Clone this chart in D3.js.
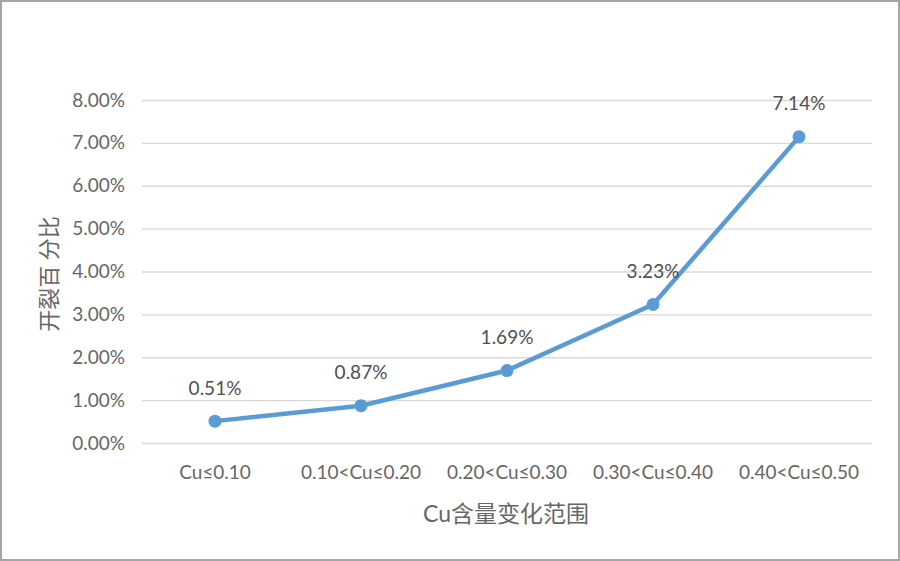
<!DOCTYPE html>
<html><head><meta charset="utf-8">
<script src="https://cdn.jsdelivr.net/npm/d3@7"></script>
<style>
html,body{margin:0;padding:0;background:#fff;}
svg{display:block;}
</style></head>
<body>
<script>
const categories = ["Cu≤0.10","0.10<Cu≤0.20","0.20<Cu≤0.30","0.30<Cu≤0.40","0.40<Cu≤0.50"];
const values = [0.51, 0.87, 1.69, 3.23, 7.14];
const yTicks = [0,1,2,3,4,5,6,7,8];
const xTitle = "Cu含量变化范围";
const yTitle = "开裂百 分比";

const W = 900, H = 561;
const m = {left:142, right:28, top:100, bottom:118};
const svg = d3.select("body").append("svg").attr("width",W).attr("height",H);
svg.append("rect").attr("x",1).attr("y",1).attr("width",W-2).attr("height",H-2)
  .attr("fill","#fff").attr("stroke","#a6a6a6").attr("stroke-width",2);

const x = d3.scaleBand().domain(categories).range([m.left, W-m.right]);
const y = d3.scaleLinear().domain([0,8]).range([H-m.bottom, m.top]);
const font = "'Lato','Noto Sans CJK SC',sans-serif";
const cjk = "'Lato','Noto Sans CJK SC',sans-serif";

const yAxis = svg.append("g").attr("transform",`translate(${m.left},0)`)
  .call(d3.axisLeft(y).tickValues(yTicks).tickFormat(d=>d.toFixed(2)+"%")
    .tickSize(-(W-m.left-m.right)).tickPadding(17));
yAxis.select(".domain").remove();
yAxis.selectAll(".tick line").attr("stroke","#d9d9d9").attr("stroke-width",1.3);
yAxis.selectAll("text").attr("fill","#666").style("font-family",font).style("font-size","19px");

const xAxis = svg.append("g").attr("transform",`translate(0,${H-m.bottom})`)
  .call(d3.axisBottom(x).tickSize(0).tickPadding(23));
xAxis.select(".domain").remove();
xAxis.selectAll("text").attr("fill","#666").style("font-family",font).style("font-size","19px");

const pts = categories.map((c,i)=>({c, v:values[i]}));
const line = d3.line().x(d=>x(d.c)+x.bandwidth()/2).y(d=>y(d.v));
svg.append("path").datum(pts).attr("d",line).attr("fill","none")
  .attr("stroke","#5b9bd5").attr("stroke-width",4.5).attr("stroke-linejoin","round");
svg.selectAll("circle.pt").data(pts).join("circle").attr("class","pt")
  .attr("cx",d=>x(d.c)+x.bandwidth()/2).attr("cy",d=>y(d.v)).attr("r",6.5).attr("fill","#5b9bd5");

svg.selectAll("text.lbl").data(pts).join("text").attr("class","lbl")
  .attr("x",d=>x(d.c)+x.bandwidth()/2)
  .attr("y",d=>y(d.v)-34).attr("dominant-baseline","central")
  .attr("text-anchor","middle").attr("fill","#505050")
  .style("font-family",font).style("font-size","19px")
  .text(d=>d.v.toFixed(2)+"%");

svg.append("text").attr("x",506).attr("y",513).attr("text-anchor","middle")
  .attr("dominant-baseline","central")
  .attr("fill","#666").style("font-family",cjk).style("font-size","23px").text(xTitle);
svg.append("text").attr("transform",`translate(48,274) rotate(-90)`).attr("text-anchor","middle")
  .attr("dominant-baseline","central")
  .attr("fill","#666").style("font-family",cjk).style("font-size","22px").text(yTitle);
</script>
</body></html>
